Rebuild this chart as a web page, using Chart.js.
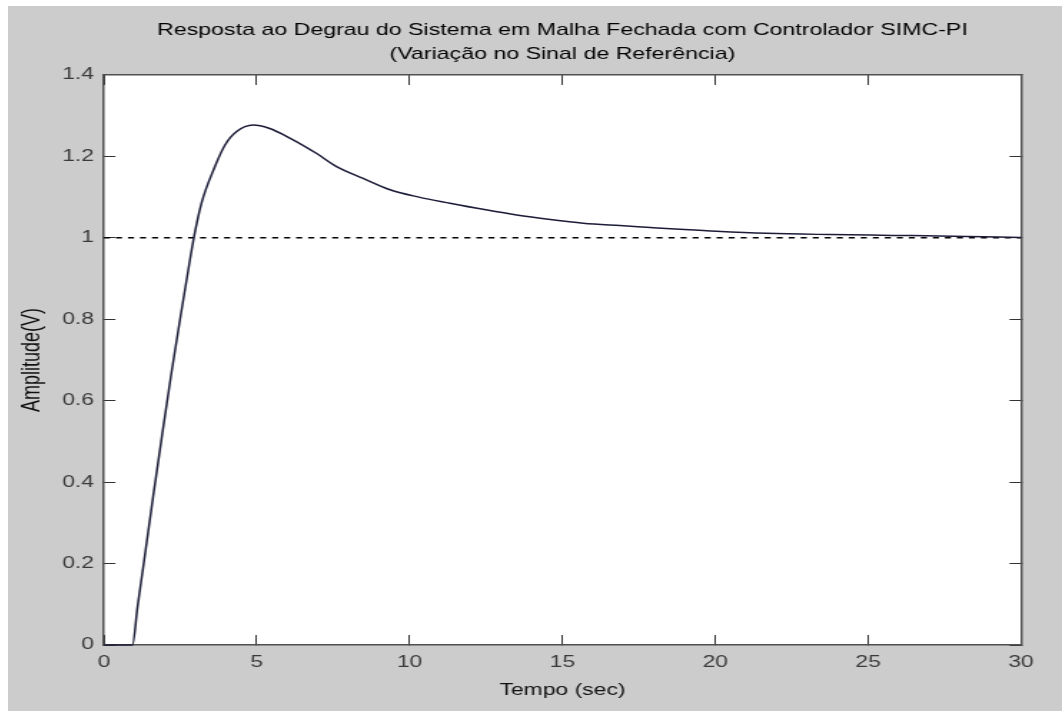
<!DOCTYPE html>
<html>
<head>
<meta charset="utf-8">
<script src="https://cdn.jsdelivr.net/npm/chart.js@4.4.1/dist/chart.umd.min.js"></script>
<style>
  html, body { margin: 0; padding: 0; background: #ffffff; }
  #wrap { position: absolute; left: 8px; top: 6px; }
  #stepChart { display: block; background: #cccccc; }
</style>
</head>
<body>
<div id="wrap">
  <!-- drawn narrow and stretched sideways, like the original screenshot -->
  <canvas id="stepChart" width="737" height="705" style="width:1054px;height:705px"></canvas>
</div>
<script>
// step response
const tempo = [0, 0.93, 1.1, 1.3, 1.6, 1.9, 2.2, 2.5, 2.8, 2.94,
  3.19, 3.63, 3.96, 4.34, 4.88, 5.4, 6.08, 6.96, 7.61, 8.48,
  9.36, 10.3, 11.32, 12.4, 13.5, 14.6, 15.68, 16.88, 17.75, 18.84,
  20.04, 21.68, 23.75, 25.8, 27.78, 30];
const amplitude = [0, 0, 0.095, 0.2, 0.36, 0.515, 0.665, 0.805, 0.94, 1.0,
  1.085, 1.175, 1.228, 1.261, 1.277, 1.269, 1.245, 1.207, 1.175, 1.146,
  1.118, 1.1, 1.085, 1.07, 1.056, 1.045, 1.036, 1.03, 1.026, 1.021,
  1.016, 1.011, 1.008, 1.006, 1.004, 1.001];

// setpoint (dashed)
const refTempo = [0, 30];
const refAmplitude = [1, 1];

const yTickValues = [0, 0.2, 0.4, 0.6, 0.8, 1, 1.2, 1.4];
const yTickLabels = ['0', '0.2', '0.4', '0.6', '0.8', '1', '1.2', '1.4'];

const titleLines = [
  'Resposta ao Degrau do Sistema em Malha Fechada com Controlador SIMC-PI',
  '(Variação no Sinal de Referência)'
];

const FONT = '"Liberation Sans", Arial, Helvetica, sans-serif';
Chart.defaults.font.family = FONT;

const plotBackground = {
  id: 'plotBackground',
  beforeDraw(chart) {
    const { ctx, chartArea: a } = chart;
    ctx.save();
    ctx.fillStyle = '#ffffff';
    ctx.fillRect(a.left, a.top, a.right - a.left, a.bottom - a.top);
    ctx.restore();
  }
};

const frame = { display: true, color: '#505050', width: 1.5 };
const tickMarks = (len) => ({ drawOnChartArea: false, drawTicks: true, tickLength: -len, color: '#333333', lineWidth: 1 });

const ctx = document.getElementById('stepChart').getContext('2d');
new Chart(ctx, {
  type: 'line',
  data: {
    datasets: [
      {
        label: 'y(t)',
        data: tempo.map((t, i) => ({ x: t, y: amplitude[i] })),
        borderColor: '#1c1c38',
        borderWidth: 1.5,
        pointRadius: 0,
        cubicInterpolationMode: 'monotone',
        clip: 4
      },
      {
        label: 'referência',
        data: refTempo.map((t, i) => ({ x: t, y: refAmplitude[i] })),
        borderColor: '#000000',
        borderWidth: 1.4,
        borderDash: [4.2, 4.2],
        pointRadius: 0
      }
    ]
  },
  options: {
    responsive: false,
    animation: false,
    layout: { padding: 0 },
    plugins: {
      legend: { display: false },
      tooltip: { enabled: false },
      title: {
        display: true,
        fullSize: false,
        text: titleLines,
        color: '#000000',
        font: { size: 16.2, weight: 'normal', lineHeight: 1.48 },
        padding: { top: 13, bottom: 8 }
      }
    },
    scales: {
      x: {
        type: 'linear',
        position: 'bottom',
        min: 0,
        max: 30,
        ticks: { stepSize: 5, padding: 18, color: '#3a3a3a', font: { size: 16 }, maxRotation: 0 },
        grid: tickMarks(10),
        border: frame,
        title: { display: true, text: 'Tempo (sec)', color: '#111111', font: { size: 16 }, padding: { top: 0, bottom: 11 } },
        afterFit(s) { s.height = 66; }
      },
      x2: {
        type: 'linear',
        position: 'top',
        min: 0,
        max: 30,
        ticks: { display: false, stepSize: 5 },
        grid: tickMarks(10),
        border: frame,
        afterFit(s) { s.height = 0; }
      },
      y: {
        type: 'linear',
        position: 'left',
        min: 0,
        max: 1.4,
        ticks: {
          stepSize: 0.2,
          padding: 15,
          color: '#3a3a3a',
          font: { size: 16 },
          callback: (v) => {
            const i = yTickValues.findIndex(t => Math.abs(t - v) < 1e-6);
            return i >= 0 ? yTickLabels[i] : '';
          }
        },
        grid: tickMarks(8),
        border: frame,
        title: { display: true, text: 'Amplitude(V)', color: '#111111', font: { size: 18 }, padding: { top: 6, bottom: 0 } },
        afterFit(s) { s.width = 67.13; }
      },
      y2: {
        type: 'linear',
        position: 'right',
        min: 0,
        max: 1.4,
        ticks: { display: false, stepSize: 0.2 },
        grid: tickMarks(8),
        border: frame,
        afterFit(s) { s.width = 28.7; }
      }
    }
  },
  plugins: [plotBackground]
});
</script>
</body>
</html>
